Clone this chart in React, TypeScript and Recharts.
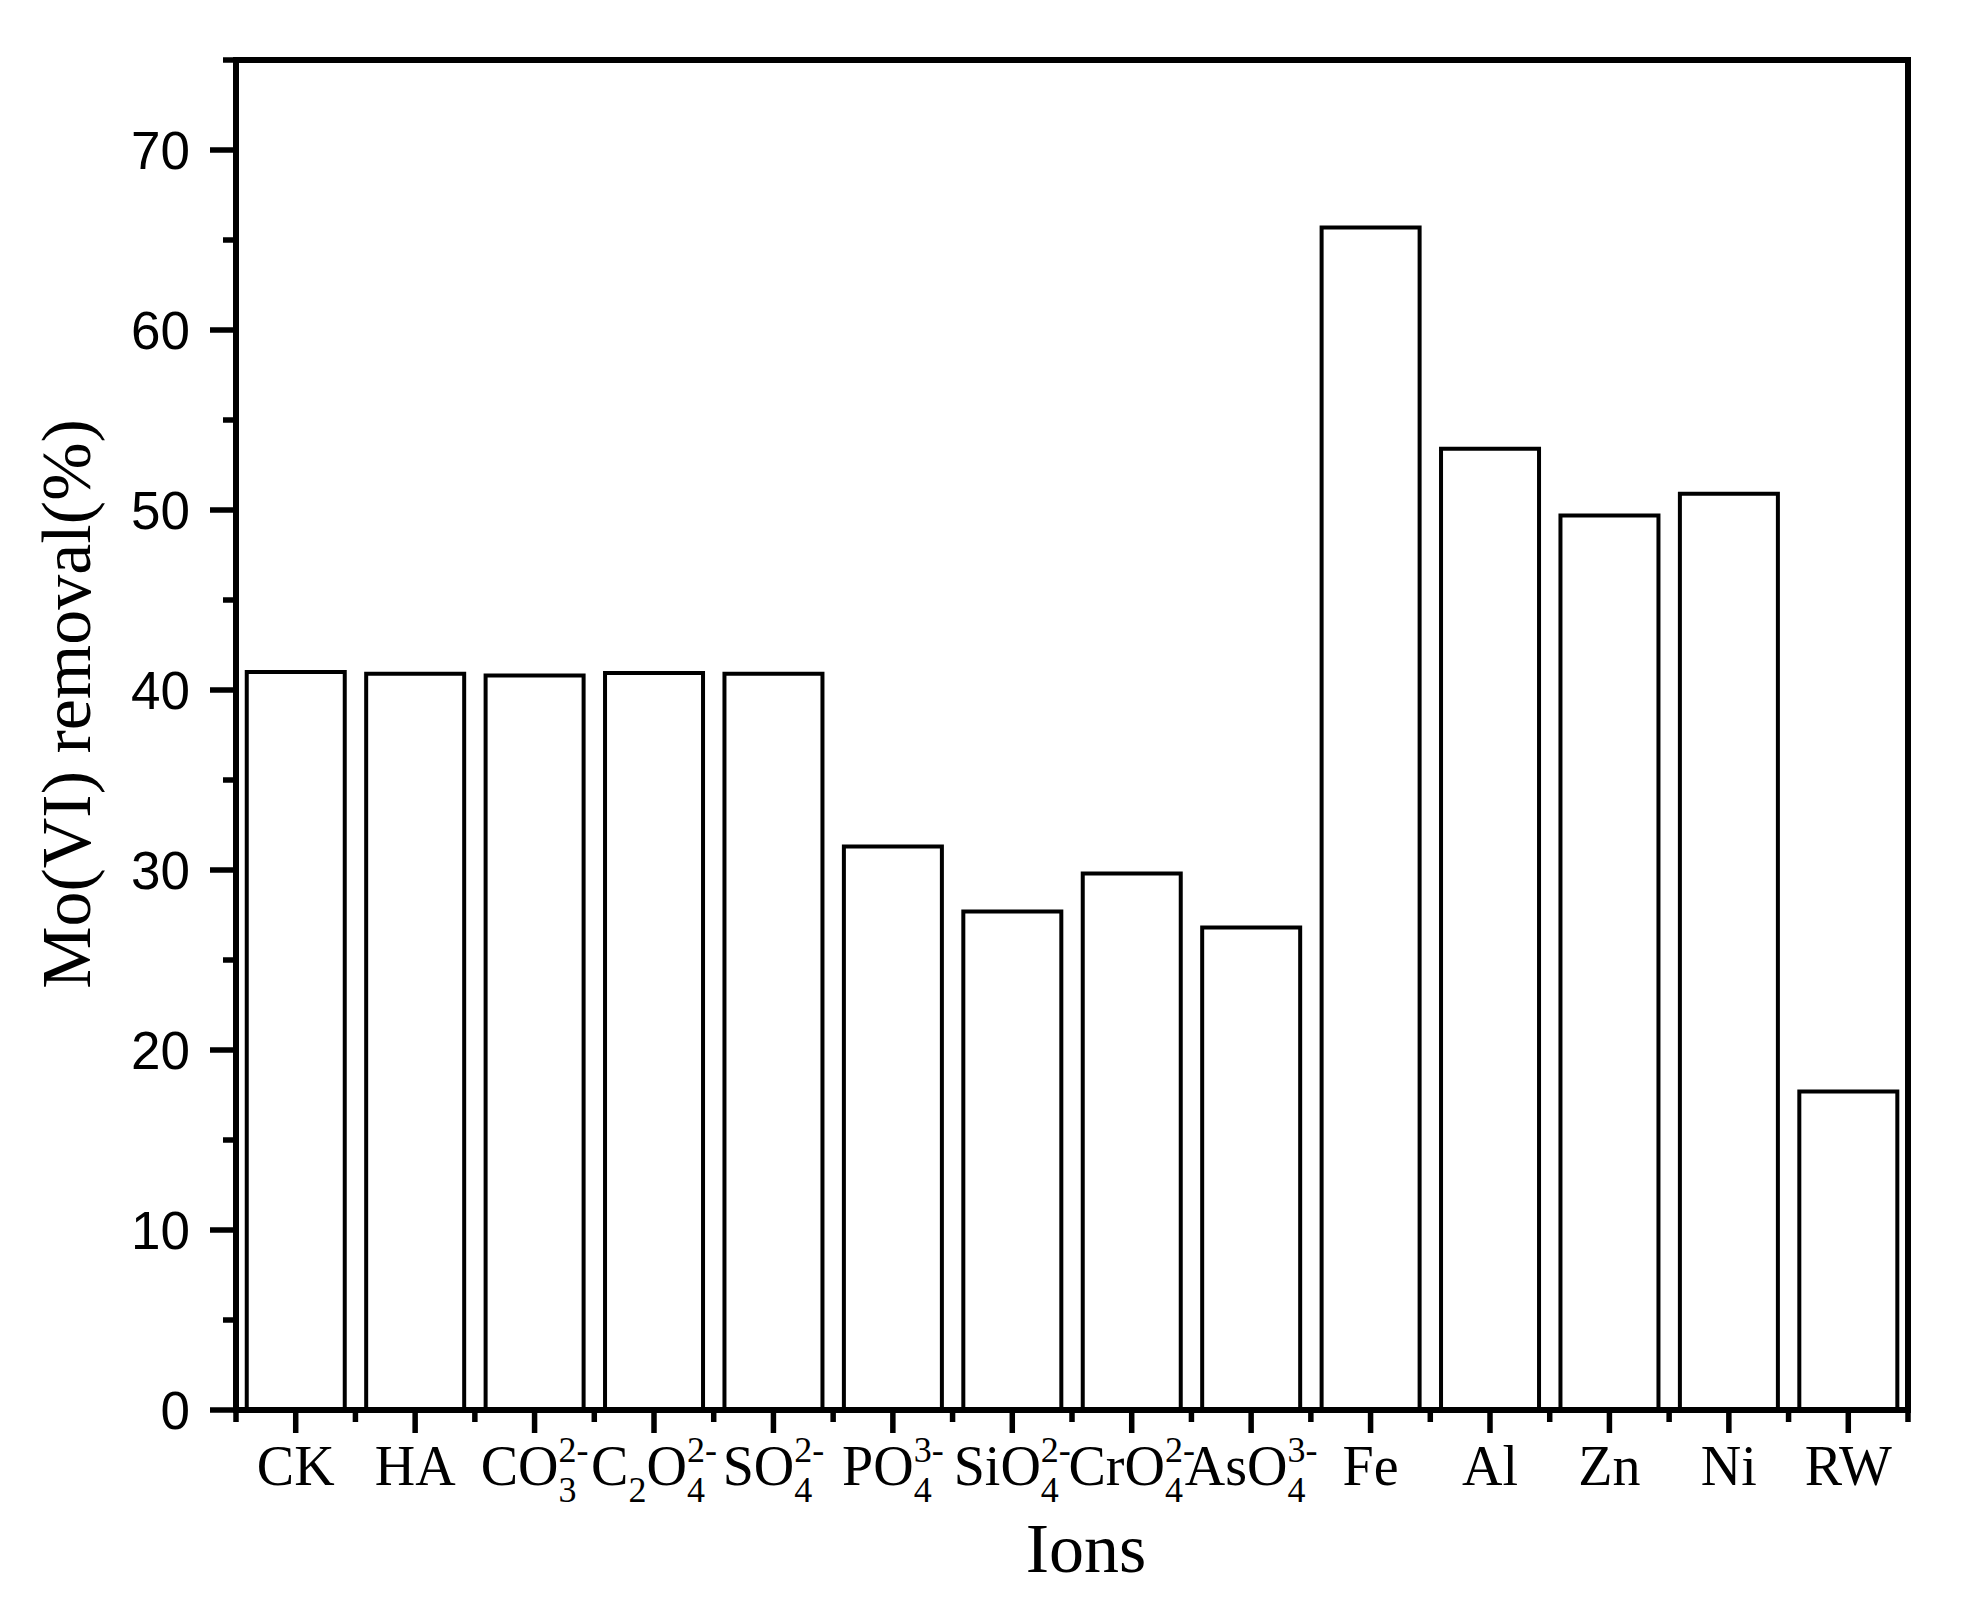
import React from "react";
import { BarChart, Bar, XAxis, YAxis, ReferenceLine, Label } from "recharts";

// category keys, in drawing order
const categories = ["CK", "HA", "CO3", "C2O4", "SO4", "PO4", "SiO4", "CrO4", "AsO4", "Fe", "Al", "Zn", "Ni", "RW"];

// Mo(VI) removal (%)
const removal = [41.0, 40.9, 40.8, 40.95, 40.9, 31.3, 27.7, 29.8, 26.8, 65.7, 53.4, 49.7, 50.9, 17.7];

// tick labels: main text, with stacked subscript / superscript
type Seg = { t: string; sub?: string; sup?: string };
const tickLabels: Seg[][] = [
  [{ t: "CK" }],
  [{ t: "HA" }],
  [{ t: "CO", sub: "3", sup: "2-" }],
  [{ t: "C", sub: "2" }, { t: "O", sub: "4", sup: "2-" }],
  [{ t: "SO", sub: "4", sup: "2-" }],
  [{ t: "PO", sub: "4", sup: "3-" }],
  [{ t: "SiO", sub: "4", sup: "2-" }],
  [{ t: "CrO", sub: "4", sup: "2-" }],
  [{ t: "AsO", sub: "4", sup: "3-" }],
  [{ t: "Fe" }],
  [{ t: "Al" }],
  [{ t: "Zn" }],
  [{ t: "Ni" }],
  [{ t: "RW" }],
];

const yTicks = [0, 5, 10, 15, 20, 25, 30, 35, 40, 45, 50, 55, 60, 65, 70, 75];
const rightTicks = [10, 20, 30, 40, 50, 60, 70];

const W = 1962;
const H = 1624;
const MARGIN = { top: 60, right: 54, bottom: 64, left: 86 };
const Y_AXIS_W = 150;
const X_AXIS_H = 150;
const PLOT_W = W - MARGIN.left - Y_AXIS_W - MARGIN.right;
const HALF_BAND = PLOT_W / categories.length / 2;

const SERIF = "'Liberation Serif', 'Times New Roman', serif";
const SANS = "'Liberation Sans', Arial, sans-serif";
const MAIN_FS = 56;
const SCRIPT_FS = 36;
const SUB_SHIFT = 17;
const SUP_SHIFT = -23;
const TICK_W = 5.5;

const data = categories.map((c, i) => ({ name: c, removal: removal[i] }));

function renderLabel(segs: Seg[]) {
  const out: React.ReactNode[] = [];
  let offset = 0;
  segs.forEach((s, k) => {
    out.push(
      <tspan key={`m${k}`} dy={-offset} fontSize={MAIN_FS}>
        {s.t}
      </tspan>
    );
    offset = 0;
    if (s.sub) {
      out.push(
        <tspan key={`b${k}`} dy={SUB_SHIFT} fontSize={SCRIPT_FS}>
          {s.sub}
        </tspan>
      );
      offset = SUB_SHIFT;
    }
    if (s.sup) {
      const back = s.sub ? s.sub.length * SCRIPT_FS * 0.5 : 0;
      out.push(
        <tspan key={`p${k}`} dx={-back} dy={SUP_SHIFT - offset} fontSize={SCRIPT_FS}>
          {s.sup}
        </tspan>
      );
      offset = SUP_SHIFT;
    }
  });
  return out;
}

function XTick(props: any) {
  const { x, y, index } = props;
  const last = index === categories.length - 1;
  return (
    <g>
      <line x1={x} y1={y} x2={x} y2={y + 23} stroke="#000" strokeWidth={TICK_W} />
      <line x1={x - HALF_BAND} y1={y} x2={x - HALF_BAND} y2={y + 12} stroke="#000" strokeWidth={TICK_W} />
      {last && <line x1={x + HALF_BAND} y1={y} x2={x + HALF_BAND} y2={y + 12} stroke="#000" strokeWidth={TICK_W} />}
      <text x={x} y={y + 75} textAnchor="middle" fontFamily={SERIF} fill="#000">
        {renderLabel(tickLabels[index])}
      </text>
    </g>
  );
}

function YTick(props: any) {
  const { x, y, payload } = props;
  const major = payload.value % 10 === 0;
  return (
    <g>
      <line x1={x - (major ? 26 : 13)} y1={y} x2={x} y2={y} stroke="#000" strokeWidth={TICK_W} />
      {major && payload.value < 75 && (
        <text x={x - 46} y={y} dy="0.36em" textAnchor="end" fontFamily={SANS} fontSize={53} fill="#000">
          {payload.value}
        </text>
      )}
    </g>
  );
}

function RightTick(props: any) {
  const { x, y } = props;
  return <line x1={x - 26} y1={y} x2={x} y2={y} stroke="#000" strokeWidth={TICK_W} />;
}

const axisLine = { stroke: "#000", strokeWidth: 6, strokeLinecap: "square" as const };

export default function App() {
  return (
    <div style={{ position: "absolute", left: 0, top: 0, width: W, height: H, background: "#fff" }}>
      <BarChart width={W} height={H} data={data} margin={MARGIN} barCategoryGap="9%">
        <XAxis
          dataKey="name"
          height={X_AXIS_H}
          axisLine={axisLine}
          tickLine={false}
          tickSize={0}
          tickMargin={0}
          interval={0}
          tick={XTick}
        >
          <Label
            content={(p: any) => {
              const vb = p.viewBox;
              return (
                <text
                  x={vb.x + vb.width / 2 + 14}
                  y={vb.y + 162}
                  textAnchor="middle"
                  fontFamily={SERIF}
                  fontSize={70}
                  fill="#000"
                >
                  Ions
                </text>
              );
            }}
          />
        </XAxis>
        <YAxis
          width={Y_AXIS_W}
          domain={[0, 75]}
          ticks={yTicks}
          interval={0}
          axisLine={axisLine}
          tickLine={false}
          tickSize={0}
          tickMargin={0}
          tick={YTick}
        >
          <Label
            content={(p: any) => {
              const vb = p.viewBox;
              const cx = vb.x + 4;
              const cy = vb.y + vb.height / 2 - 31;
              return (
                <text
                  x={cx}
                  y={cy}
                  transform={`rotate(-90 ${cx} ${cy})`}
                  textAnchor="middle"
                  fontFamily={SERIF}
                  fontSize={70}
                  fill="#000"
                >
                  Mo(VI) removal(%)
                </text>
              );
            }}
          />
        </YAxis>
        <YAxis
          yAxisId="right"
          orientation="right"
          mirror
          width={1}
          domain={[0, 75]}
          ticks={rightTicks}
          interval={0}
          axisLine={axisLine}
          tickLine={false}
          tickSize={0}
          tickMargin={0}
          tick={RightTick}
        />
        <ReferenceLine y={75} stroke="#000" strokeWidth={6} strokeLinecap="square" />
        <Bar dataKey="removal" fill="#fff" stroke="#000" strokeWidth={4} isAnimationActive={false} />
      </BarChart>
    </div>
  );
}
